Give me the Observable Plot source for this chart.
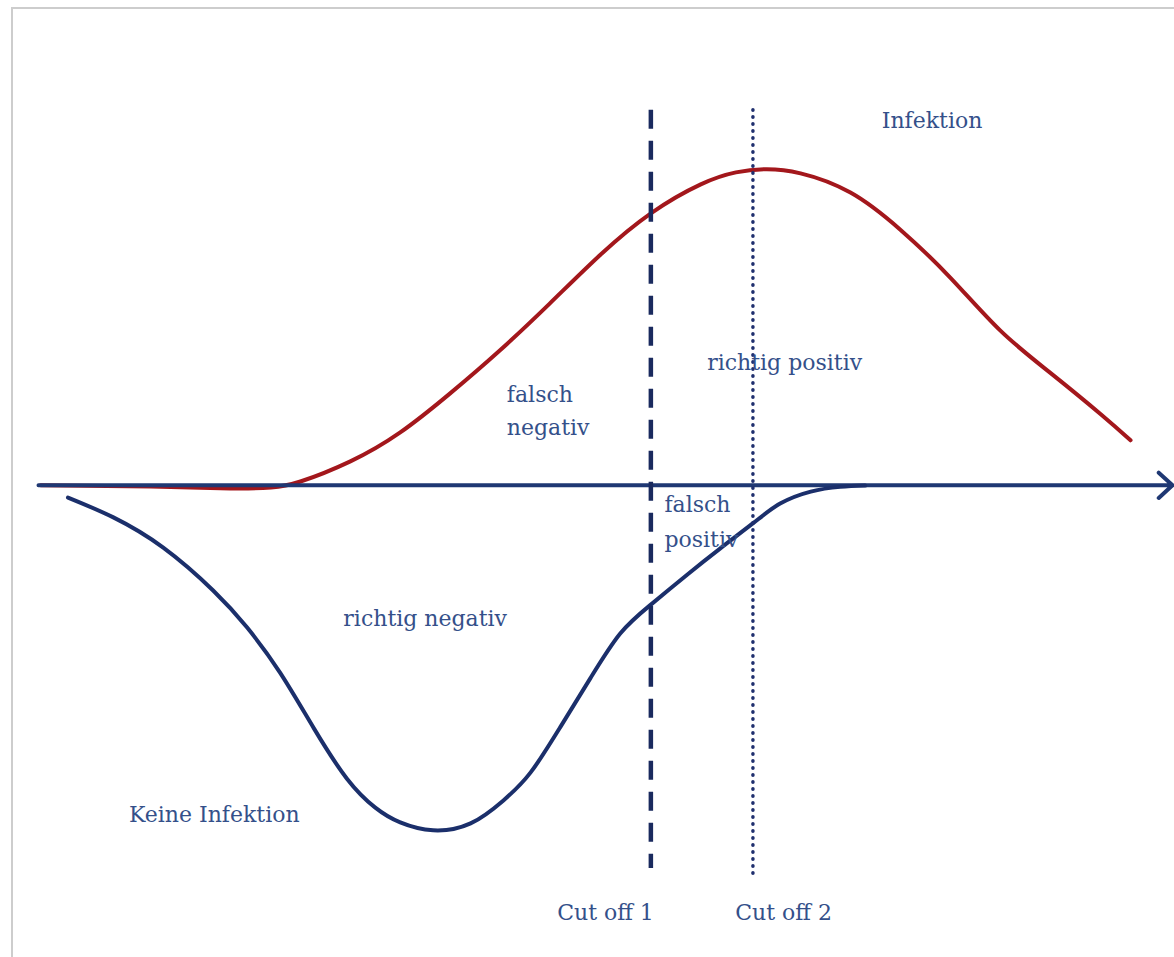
<!DOCTYPE html>
<html>
<head>
<meta charset="utf-8">
<script src="https://cdn.jsdelivr.net/npm/d3@7"></script>
<script src="https://cdn.jsdelivr.net/npm/@observablehq/plot@0.6"></script>
<style>
  html, body { margin: 0; padding: 0; background: #fff; }
  #wrap { position: relative; width: 1174px; height: 957px; overflow: hidden; }
  #frame { position: absolute; left: 11px; top: 7px; width: 1300px; height: 1100px;
           border-left: 2px solid #cdcdcd; border-top: 2px solid #cdcdcd; }
  #chart { position: absolute; left: 0; top: 0; }
</style>
</head>
<body>
<div id="wrap"><div id="frame"></div><div id="chart"></div></div>
<script>
// Test value (x) vs. frequency (y); infection plotted upward, no infection downward
const infX = [0.2, 9.9, 16.9, 20.5, 23.1, 27.5, 31.9, 36.3, 40.7, 45.1, 49.6, 54.0, 58.4, 61.5, 64.1, 67.2, 71.6, 76.0, 80.4, 84.8, 89.2, 93.7, 96.3];
const infY = [0, -0.4, -1.0, -0.7, 1.2, 7.6, 16.8, 29.2, 42.9, 57.8, 73.4, 86.4, 95.6, 99.4, 100.4, 99.1, 93.0, 81.2, 66.0, 49.2, 35.8, 22.5, 14.3];

const noInfX = [2.6, 6.6, 11.0, 15.4, 18.4, 21.3, 24.3, 27.2, 29.7, 31.9, 34.8, 38.1, 41.0, 43.4, 46.0, 48.7, 51.3, 54.0, 57.2, 60.1, 63.1, 65.4, 68.1, 70.7, 72.9];
const noInfY = [-3.9, -10.2, -19.8, -33.4, -45.2, -59.5, -77.3, -93.2, -102.4, -107.1, -109.6, -107.4, -100.1, -91.2, -76.9, -61.1, -47.1, -37.9, -28.4, -20.1, -11.8, -5.8, -2.0, -0.5, -0.1];

const cutoffNames = ["Cut off 1", "Cut off 2"];
const cutoffX = [54.0, 63.0];
const cutoffTop = [119.1, 119.1];
const cutoffBottom = [-121.7, -123.9];

const labelTexts = ["Infektion", "richtig positiv", "falsch", "negativ", "falsch", "positiv", "richtig negativ", "Keine Infektion", "Cut off 1", "Cut off 2"];
const labelX = [78.8, 65.8, 41.3, 41.3, 55.2, 55.2, 34.1, 15.5, 50.0, 65.7];
const labelY = [113.4, 36.5, 26.4, 15.9, -8.6, -19.7, -44.8, -107.1, -138.2, -138.2];
const labelAnchor = ["middle", "middle", "start", "start", "start", "start", "middle", "middle", "middle", "middle"];

const axisFrom = 0, axisTo = 100;

const infection = infX.map((x, i) => ({x, y: infY[i]}));
const noInfection = noInfX.map((x, i) => ({x, y: noInfY[i]}));
const cutoffs = cutoffNames.map((name, i) => ({name, x: cutoffX[i], y1: cutoffTop[i], y2: cutoffBottom[i]}));
const labels = labelTexts.map((text, i) => ({text, x: labelX[i], y: labelY[i], anchor: labelAnchor[i]}));

const textColor = "#34508a";
const font = "DejaVu Serif";

const plot = Plot.plot({
  width: 1174,
  height: 957,
  margin: 0,
  x: {domain: [0, 100], range: [38, 1172], axis: null},
  y: {domain: [-150, 154], range: [957, 0], axis: null},
  style: {background: "transparent", overflow: "visible"},
  marks: [
    Plot.line(infection, {x: "x", y: "y", stroke: "#a3171c", strokeWidth: 4, curve: "natural"}),
    Plot.arrow([{x1: axisFrom, x2: axisTo, y: 0}], {x1: "x1", x2: "x2", y1: "y", y2: "y", stroke: "#1f3873", strokeWidth: 4, headLength: 7, headAngle: 85}),
    Plot.line(noInfection, {x: "x", y: "y", stroke: "#1b2f6b", strokeWidth: 4, curve: "natural"}),
    Plot.ruleX([cutoffs[0]], {x: "x", y1: "y1", y2: "y2", stroke: "#1a2a5e", strokeWidth: 4.5, strokeDasharray: "19,12"}),
    Plot.ruleX([cutoffs[1]], {x: "x", y1: "y1", y2: "y2", stroke: "#1f2f6e", strokeWidth: 3.5, strokeLinecap: "round", strokeDasharray: "0.5,6.5"}),
    Plot.text(labels.filter(d => d.anchor === "middle"), {x: "x", y: "y", text: "text", textAnchor: "middle", lineAnchor: "bottom", fill: textColor, fontSize: 22, fontFamily: font}),
    Plot.text(labels.filter(d => d.anchor === "start"), {x: "x", y: "y", text: "text", textAnchor: "start", lineAnchor: "bottom", fill: textColor, fontSize: 22, fontFamily: font})
  ]
});
document.getElementById("chart").appendChild(plot);
</script>
</body>
</html>
